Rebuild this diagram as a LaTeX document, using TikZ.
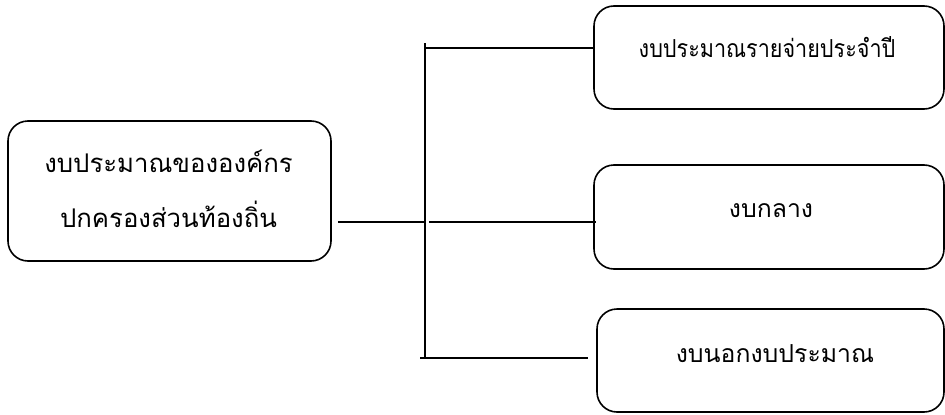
\documentclass[tikz,border=0pt]{standalone}
\usepackage{fontspec}
\newfontfamily\thaifont[Script=Thai]{Loma}
\newfontfamily\thainarrow[Script=Thai,FakeStretch=0.87]{Loma}
\usetikzlibrary{calc}

\begin{document}
\begin{tikzpicture}[x=0.75pt,y=-0.75pt,
		box/.style={draw,line width=1.2pt,rounded corners=15pt,inner sep=0pt},
		txt/.style={font=\thaifont\fontsize{18.6}{41.25}\selectfont,inner sep=0pt,anchor=base},
		link/.style={line width=1.2pt}]
			\useasboundingbox (0,0) rectangle (945,414);
			\node[box,minimum width=242.25pt,minimum height=105pt] (org) at (169.5,191) {};
			\node[box,minimum width=262.5pt,minimum height=77.25pt] (yearly) at (769,57.5) {};
			\node[box,minimum width=262.5pt,minimum height=78pt] (central) at (769,217) {};
			\node[box,minimum width=260.25pt,minimum height=77.25pt] (extra) at (770.5,360.5) {};
			%
			\node[txt,align=center,font=\thaifont\fontsize{19.3}{41.25}\selectfont] (orgtxt) at (168.5,227) {งบประมาณขององค์กร\\ปกครองส่วนท้องถิ่น};
			\node[txt,font=\thainarrow\fontsize{18.6}{41.25}\selectfont] (yearlytxt) at (767,57) {งบประมาณรายจ่ายประจำปี};
			\node[txt] (centraltxt) at (771,217) {งบกลาง};
			\node[txt] (extratxt) at (775,362) {งบนอกงบประมาณ};
			%
			\coordinate (trunktop) at (425,43);
			\coordinate (trunkbot) at (425,358);
			\draw[link] (trunktop)--(trunkbot);
			\draw[link] (425,48)--(yearly.west|-0,48);
			\draw[link] ($(org.east)+(6,31)$)--(424,222);
			\draw[link] (429,222)--($(central.west)+(3,5)$);
			\draw[link] (420,358)--($(extra.west)+(-8,-2.5)$);
		\end{tikzpicture}
\end{document}
